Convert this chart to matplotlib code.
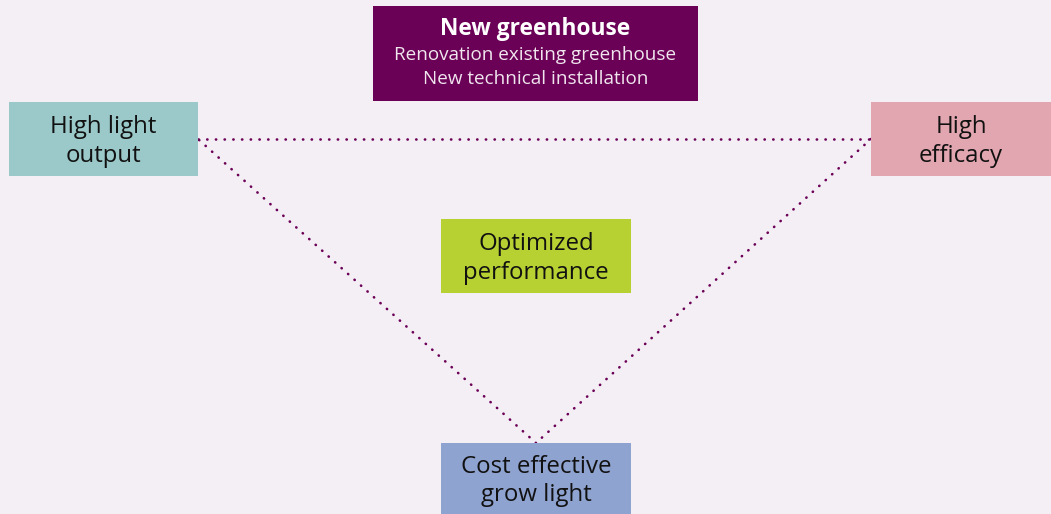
import matplotlib.pyplot as plt
from matplotlib.patches import Rectangle

# Node labels and colours
labels = ["High light\noutput", "High\nefficacy", "Optimized\nperformance", "Cost effective\ngrow light"]
colors = ["#9BC8C8", "#E2A6B0", "#B8D132", "#8FA3D0"]
title_lines = ["New greenhouse", "Renovation existing greenhouse", "New technical installation"]
purple = "#6B0057"
bg = "#F4EFF5"

plt.rcParams['font.family'] = ['Open Sans', 'DejaVu Sans']

fig = plt.figure(figsize=(10.51, 5.14), dpi=100, facecolor=bg)
ax = fig.add_axes([0, 0, 1, 1])
ax.set_xlim(0, 1051)
ax.set_ylim(514, 0)
ax.axis('off')
ax.set_facecolor(bg)

# box geometry (x0, y0, width, height) in pixels
boxes = [(9, 102, 189, 74), (871, 102, 180, 74), (441, 219, 190, 74), (441, 443, 190, 71)]

# triangle of dotted lines
corners = [(198, 139), (871, 139), (536, 443)]
for i in range(3):
    a = corners[i]
    b = corners[(i + 1) % 3]
    ax.plot([a[0], b[0]], [a[1], b[1]], color=purple, lw=1.9,
            linestyle=(0, (0.1, 3.2)), dash_capstyle='round', zorder=1)

for (x, y, w, h), lab, c in zip(boxes, labels, colors):
    ax.add_patch(Rectangle((x, y), w, h, facecolor=c, edgecolor='none', zorder=2))
    ax.text(x + w / 2, y + h / 2 + 2.5, lab, ha='center', va='center', fontsize=17.3,
            color='#111111', linespacing=1.25, zorder=3)

# top header box
ax.add_patch(Rectangle((373, 6), 325, 95, facecolor=purple, edgecolor='none', zorder=2))
ax.text(535.5, 29, title_lines[0], ha='center', va='center', fontsize=16.4,
        fontweight='bold', color='white', zorder=3)
ax.text(535.5, 54.5, title_lines[1], ha='center', va='center', fontsize=13.6,
        color='#F0E6EE', zorder=3)
ax.text(535.5, 78.5, title_lines[2], ha='center', va='center', fontsize=13.6,
        color='#F0E6EE', zorder=3)

fig.savefig("out.png", dpi=100, facecolor=bg)
